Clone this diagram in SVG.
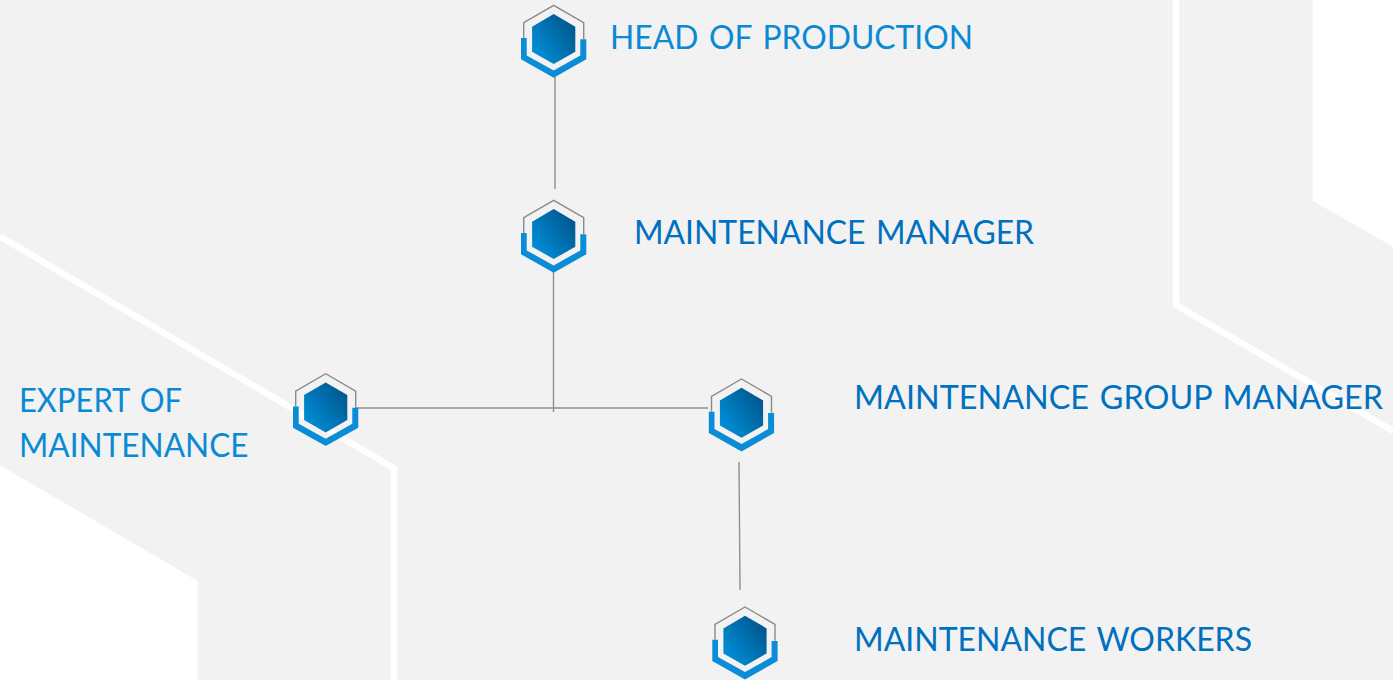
<svg xmlns="http://www.w3.org/2000/svg" xmlns:xlink="http://www.w3.org/1999/xlink" width="1393" height="680" viewBox="0 0 1393 680">
<style>
.lbl{font-family:"Lato","Open Sans","Liberation Sans",sans-serif;font-size:32px;fill:#0070c0;word-spacing:2.5px}
.lt{fill:#0a8ad4}
.wl{fill:none;stroke:#fff;stroke-width:6.4}
.cn{fill:none;stroke:#8f8f8f;stroke-width:1.4}
.ring{fill:none;stroke:#8a8a8a;stroke-width:1.4}
.cup{fill:#0a8cd6}
</style>
<defs>
<linearGradient id="g" x1="0" y1="1" x2="1" y2="0.15">
<stop offset="0.1" stop-color="#0090da"/><stop offset="1" stop-color="#005488"/>
</linearGradient>
<g id="icon">
<path class="ring" d="M-30 38V22.7L0 5.3L30 22.7V39"/>
<polygon points="0,14 21.6,26.7 21.6,51.7 0,64 -21.6,51.7 -21.6,26.7" fill="url(#g)"/>
<polygon class="cup" points="-32.7,38 -27,38 -27,55.4 0,70.4 26.6,55.4 26.6,39.3 32.6,39.3 32.6,59.3 0,77.7 -32.7,59.3"/>
</g>
</defs>
<g id="background">
<polygon points="0,0 1312.7,0 1312.7,200.7 1393,246.7 1393,680 197.7,680 197.7,581 0,465.3" fill="#f2f2f2"/>
<polyline class="wl" points="0,236.5 394,468.3 394,680"/>
<polyline class="wl" points="1176,0 1176,305 1393,431"/>
</g>
<g id="connectors">
<line class="cn" x1="555" y1="76" x2="555" y2="189"/>
<line class="cn" x1="553.5" y1="270" x2="553.5" y2="412"/>
<line class="cn" x1="355" y1="408" x2="708" y2="408"/>
<line class="cn" x1="739" y1="462" x2="740" y2="590"/>
</g>
<g id="node-head"><use xlink:href="#icon" href="#icon" transform="translate(553.7 0)"/><text class="lbl lt" x="610" y="48.5" textLength="363" lengthAdjust="spacingAndGlyphs">HEAD OF PRODUCTION</text></g>
<g id="node-manager"><use xlink:href="#icon" href="#icon" transform="translate(553.7 195)"/><text class="lbl" x="634" y="243.5" textLength="400" lengthAdjust="spacingAndGlyphs">MAINTENANCE MANAGER</text></g>
<g id="node-expert"><use xlink:href="#icon" href="#icon" transform="translate(325.7 368.4)"/><text class="lbl lt" x="19" y="412" textLength="163" lengthAdjust="spacingAndGlyphs">EXPERT OF</text><text class="lbl lt" x="19" y="457" textLength="229.5" lengthAdjust="spacingAndGlyphs">MAINTENANCE</text></g>
<g id="node-group"><use xlink:href="#icon" href="#icon" transform="translate(741.5 373.7)"/><text class="lbl" x="854" y="409" textLength="529" lengthAdjust="spacingAndGlyphs">MAINTENANCE GROUP MANAGER</text></g>
<g id="node-workers"><use xlink:href="#icon" href="#icon" transform="translate(745 601.7)"/><text class="lbl" x="854" y="651" textLength="398" lengthAdjust="spacingAndGlyphs">MAINTENANCE WORKERS</text></g>
</svg>
